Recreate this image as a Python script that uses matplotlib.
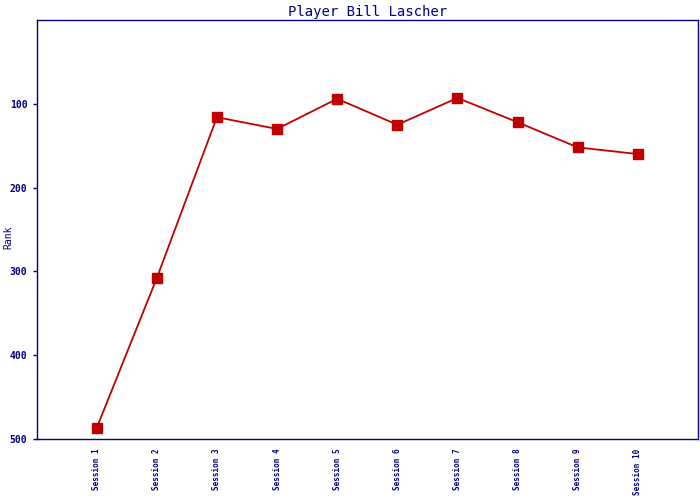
import matplotlib
matplotlib.use("Agg")
import matplotlib.pyplot as plt

sessions = ["Session 1", "Session 2", "Session 3", "Session 4", "Session 5",
            "Session 6", "Session 7", "Session 8", "Session 9", "Session 10"]
ranks = [487, 308, 116, 130, 94, 125, 93, 122, 152, 160]
yticks = [100, 200, 300, 400, 500]

navy = "#000080"
red = "#C00000"
plt.rcParams["font.family"] = "DejaVu Sans Mono"

fig = plt.figure(figsize=(7, 5), dpi=100)
ax = fig.add_axes([36.5/700, 61/500, 661.5/700, 419/500])
x = list(range(1, len(sessions) + 1))
ax.plot(x, ranks, color=red, lw=1.3, marker="s", markersize=6.5, markeredgecolor=red)
ax.set_xlim(0, 11)
ax.set_ylim(500, 0)
ax.set_xticks(x)
ax.set_xticklabels(sessions, rotation=90, fontsize=5.5, color=navy, fontweight="bold")
ax.set_yticks(yticks)
ax.set_yticklabels([str(v) for v in yticks], fontsize=7, color=navy, fontweight="bold")
ax.tick_params(axis="x", length=0, pad=7)
ax.tick_params(axis="y", length=3, color=navy, width=1)
for s in ax.spines.values():
    s.set_color(navy)
    s.set_linewidth(1)
ax.set_title("Player Bill Lascher", color=navy, fontsize=10, pad=3)
fig.text(8/700, 1 - 237/500, "Rank", color=navy, fontsize=7, rotation=90,
         ha="center", va="center")
fig.savefig("out.png", dpi=100)
